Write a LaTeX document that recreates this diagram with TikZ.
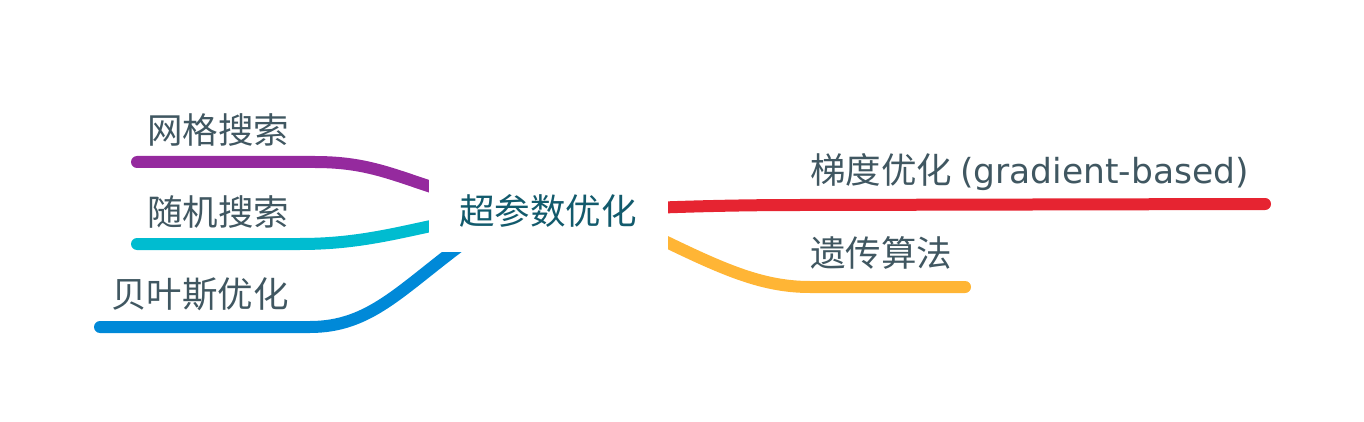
\documentclass[tikz,border=0pt]{standalone}
\usepackage{fontspec}
\setmainfont{Noto Sans CJK SC}
\newfontfamily\latinfont{DejaVu Sans}
\usepackage{tikz}
\usetikzlibrary{positioning}
\definecolor{mmpurple}{RGB}{149,42,158}
\definecolor{mmcyan}{RGB}{0,188,208}
\definecolor{mmblue}{RGB}{0,137,216}
\definecolor{mmred}{RGB}{230,36,49}
\definecolor{mmorange}{RGB}{255,181,53}
\definecolor{mmtext}{RGB}{64,87,97}
\definecolor{mmroot}{RGB}{18,90,108}

\begin{document}
\begin{tikzpicture}[x=1pt,y=-1pt,
    branch/.style={line width=12pt,line cap=round},
    leaf/.style={text=mmtext,inner sep=0pt,font=\fontsize{35.5}{40}\selectfont},
    rootbox/.style={fill=white,text=mmroot,inner sep=0pt,minimum width=239pt,minimum height=82pt,font=\fontsize{35.5}{40}\selectfont}]
\useasboundingbox (0,0) rectangle (1364,422);

% ends of the branches
\coordinate (gsEnd) at (137,162);
\coordinate (rsEnd) at (137,244);
\coordinate (byEnd) at (100,327);
\coordinate (gdEnd) at (1265,204);
\coordinate (gaEnd) at (965,287);

% labels
\node[leaf] (gs) at (218,130) {网格搜索};
\node[leaf] (rs) at (218,212) {随机搜索};
\node[leaf] (by) at (200,294) {贝叶斯优化};
\node[leaf,anchor=west] (gd) at (810,172) {梯度优化 {\latinfont\fontsize{34.5}{40}\selectfont(gradient-based)}};
\node[leaf,anchor=west] (ga) at (810,253) {遗传算法};

% branches
\draw[branch,mmpurple] (gsEnd) -- (315,162) .. controls (370,162) and (395,176) .. (450,193);
\draw[branch,mmcyan] (rsEnd) -- (300,244) .. controls (360,244) and (400,232) .. (450,222);
\draw[branch,mmblue] (byEnd) -- (310,327) .. controls (370,327) and (400,290) .. (465,242);
\draw[branch,mmred] (650,208) .. controls (700,206) and (750,205) .. (800,205) -- (gdEnd);
\draw[branch,mmorange] (650,234) .. controls (720,268) and (760,287) .. (810,287) -- (gaEnd);

% root on top, hides the inner ends
\node[rootbox] (root) at (548,211) {超参数优化};
\end{tikzpicture}
\end{document}
